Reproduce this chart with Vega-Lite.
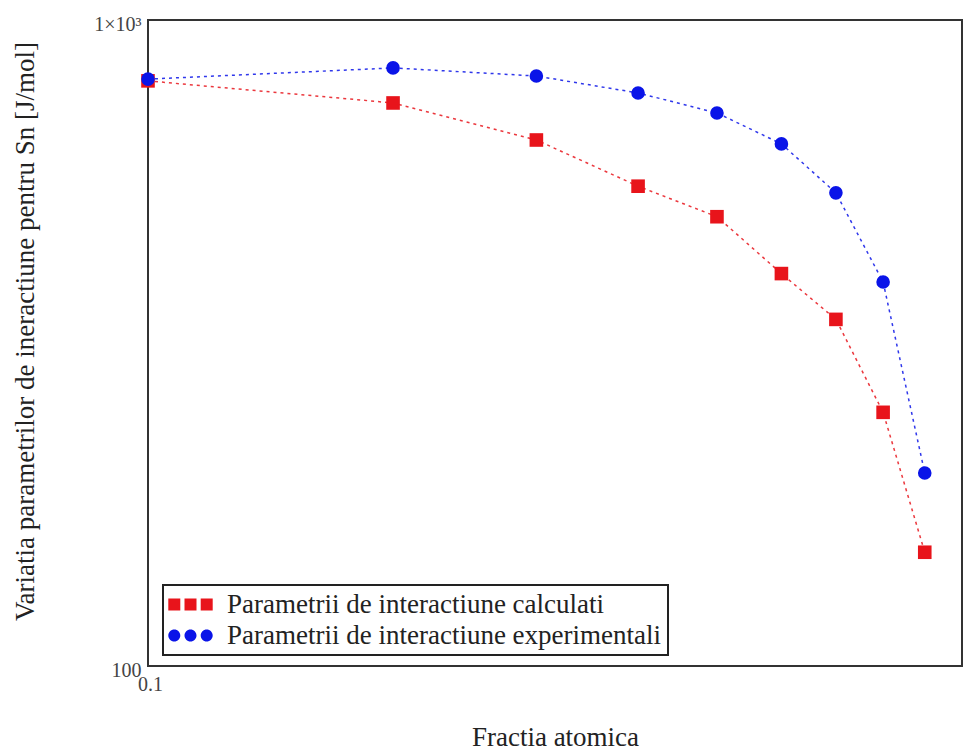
{
  "$schema": "https://vega.github.io/schema/vega-lite/v6.json",
  "width": 814,
  "height": 646,
  "autosize": "none",
  "padding": {"left": 148, "top": 20, "right": 2, "bottom": 85},
  "background": "white",
  "config": {
    "view": {"stroke": "#333", "strokeWidth": 2},
    "font": "Liberation Serif",
    "legend": {"strokeWidth": 2}
  },
  "data": {
    "values": [
      {"x": 0.1, "v": 805, "s": "Parametrii de interactiune calculati"},
      {"x": 0.2, "v": 744, "s": "Parametrii de interactiune calculati"},
      {"x": 0.3, "v": 652, "s": "Parametrii de interactiune calculati"},
      {"x": 0.4, "v": 553, "s": "Parametrii de interactiune calculati"},
      {"x": 0.5, "v": 496, "s": "Parametrii de interactiune calculati"},
      {"x": 0.6, "v": 405, "s": "Parametrii de interactiune calculati"},
      {"x": 0.7, "v": 344, "s": "Parametrii de interactiune calculati"},
      {"x": 0.8, "v": 247, "s": "Parametrii de interactiune calculati"},
      {"x": 0.9, "v": 150, "s": "Parametrii de interactiune calculati"},
      {"x": 0.1, "v": 810, "s": "Parametrii de interactiune experimentali"},
      {"x": 0.2, "v": 843, "s": "Parametrii de interactiune experimentali"},
      {"x": 0.3, "v": 819, "s": "Parametrii de interactiune experimentali"},
      {"x": 0.4, "v": 771, "s": "Parametrii de interactiune experimentali"},
      {"x": 0.5, "v": 718, "s": "Parametrii de interactiune experimentali"},
      {"x": 0.6, "v": 643, "s": "Parametrii de interactiune experimentali"},
      {"x": 0.7, "v": 540, "s": "Parametrii de interactiune experimentali"},
      {"x": 0.8, "v": 393, "s": "Parametrii de interactiune experimentali"},
      {"x": 0.9, "v": 199, "s": "Parametrii de interactiune experimentali"}
    ]
  },
  "encoding": {
    "x": {
      "field": "x", "type": "quantitative",
      "scale": {"type": "log", "domain": [0.1, 1], "nice": false},
      "axis": {
        "title": "Fractia atomica",
        "values": [0.1],
        "labelExpr": "'0.1'",
        "grid": false, "domain": false, "ticks": false,
        "labelFont": "Liberation Serif", "labelFontSize": 20, "labelColor": "#444",
        "labelPadding": 8, "labelAlign": "center", "labelOffset": 2,
        "titleFont": "Liberation Serif", "titleFontSize": 27, "titleFontWeight": "normal", "titleColor": "#222",
        "titleY": 71, "titleBaseline": "middle"
      }
    },
    "y": {
      "field": "v", "type": "quantitative",
      "scale": {"type": "log", "domain": [100, 1000], "nice": false},
      "axis": {
        "title": "Variatia parametrilor de ineractiune pentru Sn [J/mol]",
        "values": [100, 1000],
        "labelExpr": "datum.value >= 999 ? '1×10³' : '100'",
        "grid": false, "domain": false, "ticks": false,
        "labelFont": "Liberation Serif", "labelFontSize": 20, "labelColor": "#444",
        "labelPadding": 7, "labelOffset": 4, "labelBaseline": "middle",
        "titleFont": "Liberation Serif", "titleFontSize": 27, "titleFontWeight": "normal", "titleColor": "#222",
        "titleX": -123, "titleY": 311, "titleAngle": -90, "titleBaseline": "middle"
      }
    }
  },
  "layer": [
    {
      "transform": [{"filter": "datum.s === 'Parametrii de interactiune calculati'"}],
      "mark": {"type": "line", "color": "#e8141b", "strokeWidth": 1.5, "strokeDash": [3, 4], "opacity": 0.85}
    },
    {
      "transform": [{"filter": "datum.s === 'Parametrii de interactiune experimentali'"}],
      "mark": {"type": "line", "color": "#0a14e8", "strokeWidth": 1.5, "strokeDash": [3, 4], "opacity": 0.85}
    },
    {
      "transform": [{"filter": "datum.s === 'Parametrii de interactiune calculati'"}],
      "mark": {"type": "point", "shape": "square", "filled": true, "color": "#e8141b", "opacity": 1, "size": 185}
    },
    {
      "transform": [{"filter": "datum.s === 'Parametrii de interactiune experimentali'"}],
      "mark": {"type": "point", "shape": "circle", "filled": true, "color": "#0a14e8", "opacity": 1, "size": 185}
    },
    {
      "mark": {"type": "point", "filled": true, "size": 0},
      "encoding": {
        "color": {
          "field": "s", "type": "nominal",
          "scale": {
            "domain": ["Parametrii de interactiune calculati", "Parametrii de interactiune experimentali"],
            "range": ["#e8141b", "#0a14e8"]
          },
          "legend": {
            "title": null,
            "orient": "none",
            "legendX": 15,
            "legendY": 565,
            "fillColor": "white",
            "strokeColor": "#222",
            "padding": 6,
            "rowPadding": 3,
            "symbolSize": 144,
            "symbolOpacity": 1,
            "symbolOffset": 8,
            "labelOffset": 23,
            "labelFont": "Liberation Serif",
            "labelFontSize": 27,
            "labelColor": "#222",
            "labelLimit": 0
          }
        },
        "shape": {
          "field": "s", "type": "nominal",
          "scale": {
            "domain": ["Parametrii de interactiune calculati", "Parametrii de interactiune experimentali"],
            "range": [
              "M-3.7,-1H-1.7V1H-3.7Z M-1,-1H1V1H-1Z M1.7,-1H3.7V1H1.7Z",
              "M-1.7,0A1,1,0,1,1,-3.7,0A1,1,0,1,1,-1.7,0Z M1,0A1,1,0,1,1,-1,0A1,1,0,1,1,1,0Z M3.7,0A1,1,0,1,1,1.7,0A1,1,0,1,1,3.7,0Z"
            ]
          },
          "legend": {
            "title": null,
            "orient": "none",
            "legendX": 15,
            "legendY": 565,
            "fillColor": "white",
            "strokeColor": "#222",
            "padding": 6,
            "rowPadding": 3,
            "symbolSize": 144,
            "symbolOpacity": 1,
            "symbolOffset": 8,
            "labelOffset": 23,
            "labelFont": "Liberation Serif",
            "labelFontSize": 27,
            "labelColor": "#222",
            "labelLimit": 0
          }
        }
      }
    }
  ]
}
